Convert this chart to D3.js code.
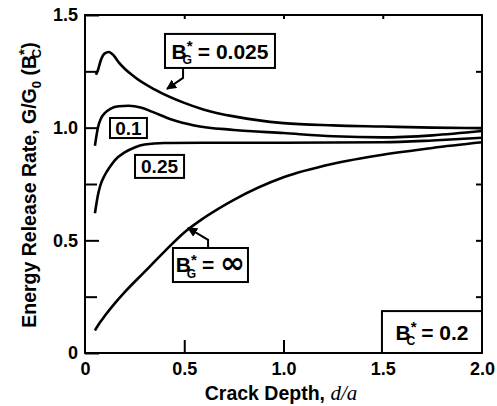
<!DOCTYPE html>
<html>
<head>
<meta charset="utf-8">
<script src="https://cdn.jsdelivr.net/npm/d3@7"></script>
<style>
  body { margin: 0; background: #fff; }
  svg { display: block; }
  text { font-family: "Liberation Sans", Arial, sans-serif; font-weight: bold; fill: #000; }
</style>
</head>
<body>
<svg id="chart" width="497" height="406"></svg>
<script>
// curve data (crack depth d/a vs G/G0)
const depth025 = [0.055, 0.065, 0.08, 0.1, 0.12, 0.145, 0.17, 0.25, 0.35, 0.5, 0.6, 0.75, 1.0, 1.25, 1.5, 1.75, 2.0];
const g025     = [1.235, 1.255, 1.30, 1.33, 1.336, 1.32, 1.29, 1.225, 1.17, 1.11, 1.08, 1.05, 1.02, 1.01, 1.005, 1.0, 0.998];

const depth01 = [0.05, 0.065, 0.08, 0.1, 0.13, 0.17, 0.22, 0.28, 0.34, 0.44, 0.55, 0.75, 1.0, 1.25, 1.5, 1.75, 2.0];
const g01     = [0.92, 1.0, 1.04, 1.065, 1.085, 1.095, 1.097, 1.09, 1.07, 1.035, 1.01, 0.99, 0.976, 0.962, 0.957, 0.966, 0.985];

const depth025b = [0.05, 0.065, 0.076, 0.1, 0.125, 0.15, 0.2, 0.25, 0.3, 0.4, 0.6, 1.0, 1.5, 1.75, 2.0];
const g025b     = [0.62, 0.70, 0.74, 0.79, 0.825, 0.855, 0.89, 0.912, 0.925, 0.932, 0.933, 0.933, 0.935, 0.943, 0.955];

const depthInf = [0.05, 0.075, 0.1, 0.15, 0.2, 0.3, 0.4, 0.5, 0.6, 0.75, 1.0, 1.25, 1.5, 1.75, 2.0];
const gInf     = [0.10, 0.135, 0.165, 0.22, 0.27, 0.36, 0.45, 0.535, 0.60, 0.68, 0.78, 0.84, 0.88, 0.91, 0.935];

const xTicks = [0, 0.5, 1.0, 1.5, 2.0];
const xTickLabels = ['0', '0.5', '1.0', '1.5', '2.0'];
const yTicks = [0, 0.5, 1.0, 1.5];
const yTickLabels = ['0', '0.5', '1.0', '1.5'];
const yMinor = [0.25, 0.75, 1.25];

const svg = d3.select('#chart');
const mLeft = 85, mTop = 15, mRight = 482, mBottom = 353;

const x = d3.scaleLinear().domain([0, 2]).range([mLeft, mRight]);
const y = d3.scaleLinear().domain([0, 1.5]).range([mBottom, mTop]);

// frame
svg.append('rect')
    .attr('x', mLeft).attr('y', mTop)
    .attr('width', mRight - mLeft).attr('height', mBottom - mTop)
    .attr('fill', 'none').attr('stroke', '#000').attr('stroke-width', 2);

// left axis
const yAxis = d3.axisLeft(y).tickValues(yTicks)
    .tickFormat((d, i) => yTickLabels[i])
    .tickSizeInner(-14).tickSizeOuter(0).tickPadding(7);
const gy = svg.append('g').attr('transform', `translate(${mLeft},0)`).call(yAxis);
gy.select('.domain').remove();
gy.selectAll('.tick line').attr('stroke-width', 2);
gy.selectAll('.tick text').style('font-size', '18px');

svg.append('g').attr('transform', `translate(${mLeft},0)`)
    .call(d3.axisLeft(y).tickValues(yMinor).tickFormat('').tickSizeInner(-12).tickSizeOuter(0))
    .call(g => g.select('.domain').remove())
    .selectAll('.tick line').attr('stroke-width', 2);

// right axis, short ticks
svg.append('g').attr('transform', `translate(${mRight},0)`)
    .call(d3.axisRight(y).tickValues(yMinor.concat([0.5, 1.0])).tickFormat('').tickSizeInner(-6).tickSizeOuter(0))
    .call(g => g.select('.domain').remove())
    .selectAll('.tick line').attr('stroke-width', 2);

// bottom axis
const xAxis = d3.axisBottom(x).tickValues(xTicks)
    .tickFormat((d, i) => xTickLabels[i])
    .tickSizeInner(-13).tickSizeOuter(0).tickPadding(9);
const gx = svg.append('g').attr('transform', `translate(0,${mBottom})`).call(xAxis);
gx.select('.domain').remove();
gx.selectAll('.tick line').attr('stroke-width', 2)
    .attr('display', d => (d === 0 || d === 2) ? 'none' : null);
gx.selectAll('.tick text').style('font-size', '18px');

// top axis, short ticks
svg.append('g').attr('transform', `translate(0,${mTop})`)
    .call(d3.axisTop(x).tickValues([0.5, 1.0, 1.5]).tickFormat('').tickSizeInner(-4).tickSizeOuter(0))
    .call(g => g.select('.domain').remove())
    .selectAll('.tick line').attr('stroke-width', 2);

// curves
const line = d3.line().x(d => x(d[0])).y(d => y(d[1])).curve(d3.curveMonotoneX);
const series = [
    [depth025, g025],
    [depth01, g01],
    [depth025b, g025b],
    [depthInf, gInf]
];
series.forEach(s => {
    const pts = s[0].map((d, i) => [d, s[1][i]]);
    svg.append('path')
        .attr('d', line(pts))
        .attr('fill', 'none')
        .attr('stroke', '#000')
        .attr('stroke-width', 2.6);
});

// arrow marker
svg.append('defs').append('marker')
    .attr('id', 'head')
    .attr('viewBox', '0 0 10 10')
    .attr('refX', 9).attr('refY', 5)
    .attr('markerWidth', 5).attr('markerHeight', 5)
    .attr('orient', 'auto')
    .append('path').attr('d', 'M0,0L10,5L0,10z').attr('fill', '#000');

function leader(pts) {
    svg.append('path')
        .attr('d', d3.line().x(d => x(d[0])).y(d => y(d[1]))(pts))
        .attr('fill', 'none').attr('stroke', '#000').attr('stroke-width', 2)
        .attr('marker-end', 'url(#head)');
}
leader([[0.494, 1.265], [0.494, 1.221], [0.413, 1.172]]);
leader([[0.62, 0.466], [0.62, 0.502], [0.519, 0.555]]);

// label boxes
function box(x0, y0, x1, y1) {
    svg.append('rect')
        .attr('x', x(x0)).attr('y', y(y0))
        .attr('width', x(x1) - x(x0)).attr('height', y(y1) - y(y0))
        .attr('fill', '#fff').attr('stroke', '#000').attr('stroke-width', 2);
    return [(x(x0) + x(x1)) / 2, (y(y0) + y(y1)) / 2];
}

// B with a star above and a letter below, then the rest of the text
function bLabel(cx, cy, sub, rest, size, restSize) {
    const t = svg.append('text')
        .attr('x', cx).attr('y', cy + size * 0.36)
        .attr('text-anchor', 'middle')
        .style('font-size', size + 'px');
    t.append('tspan').text('B');
    t.append('tspan').attr('dy', -size * 0.36).style('font-size', (size * 0.72) + 'px').text('*');
    t.append('tspan').attr('dx', -size * 0.48).attr('dy', size * 0.62).style('font-size', (size * 0.58) + 'px').text(sub);
    t.append('tspan').attr('dy', -size * 0.26).style('font-size', (restSize || size) + 'px').text(rest);
}

let c = box(0.403, 1.416, 0.957, 1.265);
bLabel(c[0], c[1], 'G', ' = 0.025', 21);

c = box(0.126, 1.043, 0.312, 0.954);
svg.append('text').attr('x', c[0]).attr('y', c[1] + 7).attr('text-anchor', 'middle')
    .style('font-size', '19px').text('0.1');

c = box(0.252, 0.879, 0.499, 0.777);
svg.append('text').attr('x', c[0]).attr('y', c[1] + 7).attr('text-anchor', 'middle')
    .style('font-size', '19px').text('0.25');

c = box(0.443, 0.466, 0.821, 0.315);
const inf = svg.append('text')
    .attr('x', c[0]).attr('y', c[1] + 7)
    .attr('text-anchor', 'middle')
    .style('font-size', '21px');
inf.append('tspan').text('B');
inf.append('tspan').attr('dy', -7.5).style('font-size', '15px').text('*');
inf.append('tspan').attr('dx', -10).attr('dy', 13).style('font-size', '12px').text('G');
inf.append('tspan').attr('dy', -5.5).text(' = ');
inf.append('tspan').attr('dy', 1).style('font-size', '30px').style('font-family', '"DejaVu Sans", sans-serif').text('\u221E');

c = box(1.496, 0.186, 2.0, 0);
bLabel(c[0], c[1], 'C', '   = 0.2', 21);

// axis titles
const xt = svg.append('text')
    .attr('x', 281).attr('y', 400)
    .attr('text-anchor', 'middle')
    .style('font-size', '19.5px');
xt.append('tspan').text('Crack Depth, ');
xt.append('tspan')
    .style('font-family', '"Liberation Serif", "Times New Roman", serif')
    .style('font-style', 'italic').style('font-weight', 'normal')
    .style('font-size', '21px').text('d/a');

const yt = svg.append('text')
    .attr('transform', 'translate(36,185) rotate(-90)')
    .attr('text-anchor', 'middle')
    .style('font-size', '19.5px');
yt.append('tspan').text('Energy Release Rate, G/G');
yt.append('tspan').attr('dy', 5).style('font-size', '13px').text('0');
yt.append('tspan').attr('dy', -5).text(' (B');
yt.append('tspan').attr('dy', -7).style('font-size', '15px').text('*');
yt.append('tspan').attr('dx', -9).attr('dy', 12).style('font-size', '13px').text('C');
yt.append('tspan').attr('dy', -5).text(')');
</script>
</body>
</html>
